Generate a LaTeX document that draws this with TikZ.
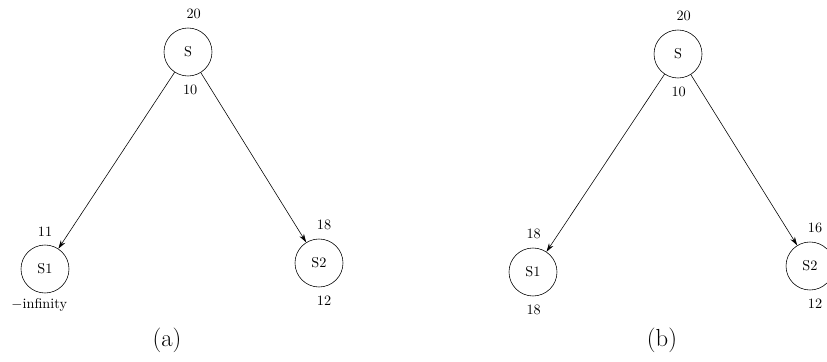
\documentclass[tikz,border=0pt]{standalone}
\usetikzlibrary{arrows.meta,automata,positioning}
\begin{document}
\begin{tikzpicture}[x=0.7pt,y=-0.7pt,->,>={Stealth[length=6pt,width=3.6pt]},auto,node distance=2.5pt,thin]
	\tikzstyle{every state}=[draw,minimum size=33.6pt,inner sep=0pt]
	\tikzstyle{caption}=[font=\LARGE]
	\clip (0,0) rectangle (827,362);

	% (a)
	\node[state] (Sa) at (188,52) {S};
	\node[state] (S1a) at (45,269) {S1};
	\node[state] (S2a) at (319,263) {S2};
	\node (Sa up) [above = of Sa, xshift=4pt] {20};
	\node (Sa down) [below = of Sa, xshift=1.5pt] {10};
	\node (S1a up) [above = of S1a] {11};
	\node (S1a down) [below = 0pt of S1a, xshift=-4pt] {$-$infinity};
	\node (S2a up) [above = of S2a, xshift=3.5pt] {18};
	\node (S2a down) [below = of S2a, xshift=3.5pt] {12};
	\node[caption] (capa) at (167,340) {(a)};

	\path (Sa) edge (S1a);
	\path (Sa) edge (S2a);

	% (b)
	\node[state] (Sb) at (678,54) {S};
	\node[state] (S1b) at (533,272) {S1};
	\node[state] (S2b) at (810,266) {S2};
	\node (Sb up) [above = of Sb, xshift=4pt] {20};
	\node (Sb down) [below = of Sb, xshift=0.5pt] {10};
	\node (S1b up) [above = of S1b, xshift=0.5pt] {18};
	\node (S1b down) [below = of S1b, xshift=0.5pt] {18};
	\node (S2b up) [above = of S2b, xshift=3.5pt] {16};
	\node (S2b down) [below = of S2b, xshift=3.5pt] {12};
	\node[caption] (capb) at (662,340) {(b)};

	\path (Sb) edge (S1b);
	\path (Sb) edge (S2b);
\end{tikzpicture}
\end{document}
